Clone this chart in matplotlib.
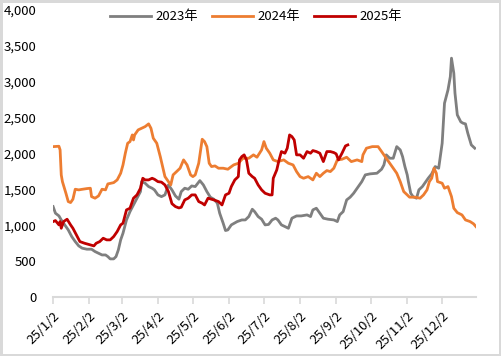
import matplotlib

matplotlib.use("Agg")
import matplotlib.pyplot as plt
import pandas as pd

plt.rcParams["font.family"] = ["Noto Sans CJK SC", "DejaVu Sans"]

# day offsets counted from 2025-01-02
days_2023 = [0, 2, 5, 7, 10, 13, 16, 19, 22, 25, 29, 33, 36, 39, 42, 45, 47, 49, 52, 54,
             56, 58, 60, 63, 66, 69, 72, 75, 76, 79, 82, 85, 87, 90, 93, 96, 99, 102, 105, 108,
             110, 113, 116, 119, 122, 126, 129, 132, 135, 138, 141, 143, 146, 148, 150, 153, 158, 162, 165, 168,
             171, 173, 176, 179, 182, 185, 188, 191, 193, 196, 199, 202, 205, 209, 213, 218, 221, 223, 226, 229,
             232, 236, 241, 244, 246, 249, 252, 255, 258, 261, 265, 268, 272, 278, 282, 284, 286, 289, 292, 295,
             298, 300, 302, 304, 305, 307, 309, 312, 314, 317, 319, 322, 325, 328, 331, 334, 336, 339, 341, 342,
             344, 345, 347, 350, 352, 354, 356, 359, 362]
vals_2023 = [1259, 1167, 1129, 1073, 1004, 934, 841, 771, 711, 679, 665, 665, 632, 609, 585, 585, 562, 530, 530, 562,
             655, 795, 888, 1073, 1189, 1282, 1376, 1468, 1607, 1585, 1538, 1515, 1492, 1422, 1398, 1422, 1561, 1492, 1408, 1362,
             1468, 1515, 1501, 1547, 1538, 1621, 1561, 1468, 1390, 1362, 1306, 1167, 1027, 925, 934, 1004, 1050, 1073, 1073, 1120,
             1222, 1189, 1120, 1083, 1004, 1010, 1073, 1097, 1073, 1004, 980, 957, 1097, 1129, 1129, 1143, 1120, 1213, 1236, 1167,
             1097, 1083, 1073, 1050, 1143, 1189, 1352, 1390, 1445, 1515, 1607, 1701, 1715, 1724, 1780, 1840, 1980, 1933, 1933, 2095,
             2049, 1956, 1817, 1701, 1607, 1445, 1398, 1376, 1492, 1538, 1585, 1654, 1715, 1817, 1794, 2142, 2700, 2886, 3071, 3328,
             3118, 2840, 2537, 2440, 2421, 2412, 2282, 2119, 2073]

days_2024 = [0, 5, 6, 7, 8, 11, 13, 15, 17, 19, 22, 25, 29, 32, 33, 36, 39, 42, 45, 47,
             52, 55, 58, 60, 62, 64, 66, 68, 69, 70, 73, 76, 79, 82, 84, 86, 89, 92, 95, 96,
             99, 101, 103, 106, 109, 112, 115, 118, 120, 122, 125, 128, 130, 132, 134, 136, 139, 142, 146, 150,
             155, 159, 163, 168, 172, 175, 179, 181, 183, 186, 189, 193, 198, 202, 206, 209, 212, 215, 219, 223,
             226, 229, 232, 235, 238, 241, 244, 248, 252, 256, 261, 265, 266, 269, 274, 279, 282, 285, 289, 292,
             295, 298, 301, 304, 306, 311, 315, 318, 321, 323, 325, 327, 329, 330, 334, 336, 339, 342, 344, 347,
             351, 354, 358, 361, 363]
vals_2024 = [2095, 2100, 2050, 1700, 1607, 1445, 1329, 1315, 1362, 1501, 1492, 1500, 1510, 1515, 1398, 1376, 1408, 1501, 1492, 1575,
             1593, 1631, 1724, 1840, 2003, 2142, 2165, 2258, 2188, 2258, 2328, 2351, 2374, 2412, 2351, 2212, 2142, 1956, 1747, 1677,
             1607, 1561, 1701, 1747, 1794, 1910, 1840, 1701, 1677, 1701, 1863, 2198, 2165, 2095, 1863, 1817, 1826, 1794, 1794, 1780,
             1840, 1863, 1933, 1933, 1980, 1947, 2049, 2165, 2073, 2003, 1910, 1886, 1910, 1863, 1840, 1747, 1677, 1654, 1677, 1631,
             1724, 1677, 1724, 1761, 1747, 1794, 1910, 1919, 1947, 1886, 1910, 1886, 1980, 2073, 2095, 2095, 2026, 1956, 1863, 1794,
             1724, 1607, 1468, 1422, 1390, 1390, 1376, 1422, 1492, 1607, 1654, 1794, 1724, 1607, 1585, 1515, 1538, 1398, 1236, 1175,
             1143, 1073, 1050, 1018, 980]

days_2025 = [0, 2, 5, 6, 7, 9, 12, 15, 17, 20, 23, 27, 32, 35, 37, 40, 43, 46, 49, 52,
             55, 58, 60, 63, 66, 69, 72, 75, 77, 79, 82, 85, 87, 90, 93, 96, 99, 102, 105, 108,
             110, 113, 116, 119, 122, 125, 128, 130, 133, 138, 142, 145, 148, 151, 153, 156, 159, 160, 162, 164,
             166, 168, 171, 173, 176, 179, 182, 186, 188, 189, 192, 194, 196, 199, 201, 203, 205, 207, 209, 212,
             215, 218, 221, 223, 226, 229, 232, 235, 238, 241, 243, 245, 248, 251, 253]
vals_2025 = [1050, 1064, 1004, 1050, 957, 1050, 1083, 1004, 957, 864, 771, 748, 725, 711, 748, 771, 818, 795, 795, 841,
             911, 1004, 1027, 1213, 1236, 1376, 1422, 1515, 1654, 1631, 1631, 1654, 1640, 1607, 1600, 1561, 1468, 1300, 1259, 1240,
             1250, 1352, 1376, 1422, 1422, 1329, 1306, 1282, 1376, 1352, 1329, 1282, 1422, 1445, 1538, 1631, 1677, 1910, 1956, 1980,
             1910, 1724, 1677, 1654, 1561, 1492, 1445, 1422, 1422, 1654, 1770, 1910, 2026, 2003, 2073, 2258, 2235, 2188, 1980, 1980,
             1933, 2026, 2003, 2040, 2026, 2003, 1886, 2026, 2026, 2012, 1994, 1910, 2003, 2105, 2119]

series = [
    ("2023年", days_2023, vals_2023, "#7f7f7f"),
    ("2024年", days_2024, vals_2024, "#ed7d31"),
    ("2025年", days_2025, vals_2025, "#c00000"),
]

base = pd.Timestamp("2025-01-02")
tick_dates = [pd.Timestamp(2025, m, 2) for m in range(1, 13)]
tick_labels = [f"25/{m}/2" for m in range(1, 13)]
y_ticks = [0, 500, 1000, 1500, 2000, 2500, 3000, 3500, 4000]

fig = plt.figure(figsize=(5.01, 3.56), dpi=100, edgecolor="#d9d9d9", linewidth=2.5)
ax = fig.add_axes([0.106, 0.166, 0.844, 0.806])

for label, days, vals, color in series:
    x = base + pd.to_timedelta(days, unit="D")
    ax.plot(x, vals, color=color, lw=2.0, label=label, solid_joinstyle="round")

ax.set_xlim(base, pd.Timestamp("2025-12-31"))
ax.set_ylim(0, 4000)
ax.set_yticks(y_ticks)
ax.set_yticklabels([f"{v:,}" for v in y_ticks])
ax.set_xticks(tick_dates)
ax.set_xticklabels(tick_labels, rotation=45, ha="right", rotation_mode="anchor")

for side in ["top", "right", "left"]:
    ax.spines[side].set_visible(False)
ax.spines["bottom"].set_color("#d9d9d9")
ax.spines["bottom"].set_linewidth(1.5)
ax.tick_params(axis="y", length=0, pad=12, labelsize=9.5, colors="#000000")
ax.tick_params(axis="x", direction="out", length=5, width=1.2, color="#d9d9d9", pad=4, labelsize=9.5)

ax.legend(loc="upper center", bbox_to_anchor=(0.48, 1.04), ncol=3, frameon=False,
          fontsize=9.5, handlelength=3.1, handletextpad=0.3, columnspacing=1.1)

fig.savefig("out.png", dpi=100)
plt.close(fig)
